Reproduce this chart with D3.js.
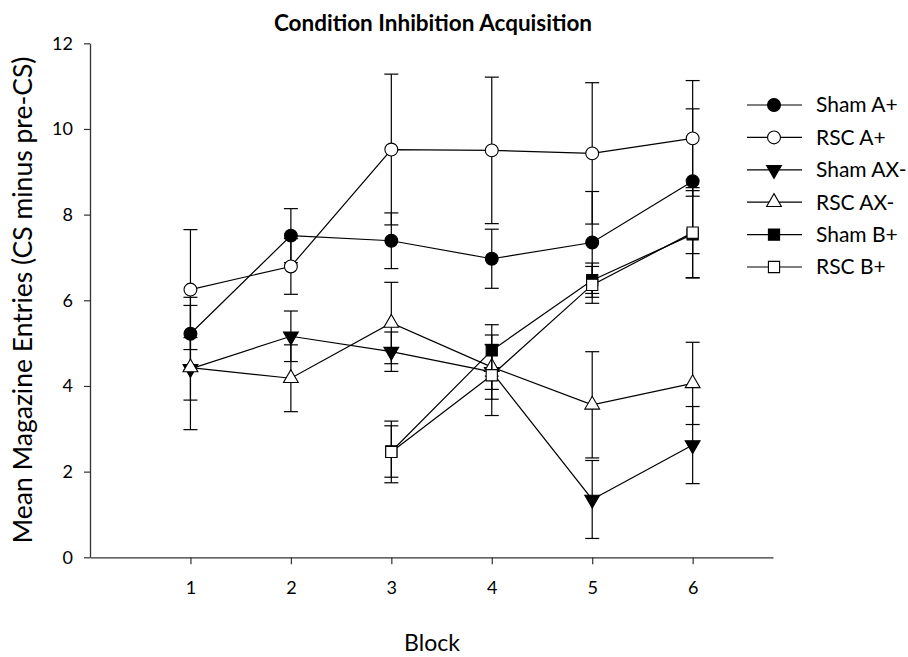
<!DOCTYPE html>
<html>
<head>
<meta charset="utf-8">
<script src="https://cdn.jsdelivr.net/npm/d3@7"></script>
<style>
	body { margin: 0; background: #fff; }
	text { font-family: Lato, "Open Sans", sans-serif; fill: #000; }
</style>
</head>
<body>
<div id="chart"></div>
<script>
// values (mean +/- SEM)
var blocks = [1, 2, 3, 4, 5, 6];
var seriesNames = ["Sham A+", "RSC A+", "Sham AX-", "RSC AX-", "Sham B+", "RSC B+"];

var shamA    = [5.22, 7.51, 7.39, 6.97, 7.35, 8.78];
var shamA_se = [0.85, 0.63, 0.65, 0.69, 1.19, 1.69];
var rscA     = [6.25, 6.79, 9.52, 9.50, 9.43, 9.78];
var rscA_se  = [1.40, 0.65, 1.76, 1.71, 1.65, 1.35];
var shamAX    = [4.40, 5.16, 4.80, 4.33, 1.35, 2.62];
var shamAX_se = [0.73, 0.59, 0.46, 0.64, 0.91, 0.90];
var rscAX     = [4.43, 4.18, 5.47, 4.44, 3.56, 4.06];
var rscAX_se  = [1.45, 0.78, 0.95, 0.52, 1.24, 0.96];
var shamB    = [null, null, 2.47, 4.83, 6.47, 7.54];
var shamB_se = [null, null, 0.60, 0.60, 0.40, 1.02];
var rscB     = [null, null, 2.46, 4.25, 6.36, 7.58];
var rscB_se  = [null, null, 0.72, 0.94, 0.43, 1.05];

var yTicks = [0, 2, 4, 6, 8, 10, 12];

var width = 908, height = 657;

var svg = d3.select("#chart")
			.append("svg")
			.attr("width", width)
			.attr("height", height);

var x = d3.scaleLinear().domain([0, 6.8]).range([90, 773]);
var y = d3.scaleLinear().domain([0, 12]).range([557.3, 43.3]);

// marker shape + fill per series
var markers = [
	{sym: d3.symbolCircle,   fill: "#000", rot: 0},
	{sym: d3.symbolCircle,   fill: "#fff", rot: 0},
	{sym: d3.symbolTriangle, fill: "#000", rot: 180},
	{sym: d3.symbolTriangle, fill: "#fff", rot: 0},
	{sym: d3.symbolSquare,   fill: "#000", rot: 0},
	{sym: d3.symbolSquare,   fill: "#fff", rot: 0}
];
var symSize = [130, 130, 95, 95, 125, 125];

var series = [
	[shamA, shamA_se], [rscA, rscA_se], [shamAX, shamAX_se],
	[rscAX, rscAX_se], [shamB, shamB_se], [rscB, rscB_se]
].map(function(s, k){
	var pts = [];
	blocks.forEach(function(b, i){
		if(s[0][i] != null) pts.push({b: b, v: s[0][i], se: s[1][i]});
	});
	return {name: seriesNames[k], pts: pts, m: markers[k], size: symSize[k]};
});

// axes
var yAxis = svg.append("g")
	.attr("transform", "translate(" + x(0) + ",0)")
	.call(d3.axisLeft(y).tickValues(yTicks).tickSize(6).tickSizeOuter(0).tickPadding(11));
var xAxis = svg.append("g")
	.attr("transform", "translate(0," + y(0) + ")")
	.call(d3.axisBottom(x).tickValues(blocks).tickFormat(d3.format("d"))
		.tickSize(7).tickSizeOuter(0).tickPadding(17));

[yAxis, xAxis].forEach(function(a){
	a.select(".domain").attr("stroke", "#333").attr("stroke-width", 1.3);
	a.selectAll(".tick line").attr("stroke", "#333").attr("stroke-width", 1.2);
	a.selectAll(".tick text").style("font-size", "18px").attr("fill", "#000");
});

var line = d3.line()
	.x(function(d){ return x(d.b); })
	.y(function(d){ return y(d.v); });

// each series: line, error bars, markers (later series on top)
series.forEach(function(s){
	var g = svg.append("g");

	g.append("path")
		.attr("d", line(s.pts))
		.attr("fill", "none")
		.attr("stroke", "#000")
		.attr("stroke-width", 1.2);

	var eb = g.selectAll(".eb").data(s.pts).enter().append("g");
	eb.append("line")
		.attr("x1", function(d){ return x(d.b); })
		.attr("x2", function(d){ return x(d.b); })
		.attr("y1", function(d){ return y(d.v - d.se); })
		.attr("y2", function(d){ return y(d.v + d.se); })
		.attr("stroke", "#000").attr("stroke-width", 1.2);
	[-1, 1].forEach(function(sign){
		eb.append("line")
			.attr("x1", function(d){ return x(d.b) - 7; })
			.attr("x2", function(d){ return x(d.b) + 7; })
			.attr("y1", function(d){ return y(d.v + sign * d.se); })
			.attr("y2", function(d){ return y(d.v + sign * d.se); })
			.attr("stroke", "#000").attr("stroke-width", 1.2);
	});

	g.selectAll(".mk").data(s.pts).enter().append("path")
		.attr("d", d3.symbol().type(s.m.sym).size(s.size))
		.attr("transform", function(d){
			return "translate(" + x(d.b) + "," + y(d.v) + ") rotate(" + s.m.rot + ")";
		})
		.attr("fill", s.m.fill)
		.attr("stroke", "#000")
		.attr("stroke-width", 1.1);
});

// legend
var leg = svg.append("g");
series.forEach(function(s, i){
	var ly = 105 + i * 32.4;
	leg.append("line")
		.attr("x1", 747).attr("x2", 802)
		.attr("y1", ly).attr("y2", ly)
		.attr("stroke", "#000").attr("stroke-width", 1.2);
	leg.append("path")
		.attr("d", d3.symbol().type(s.m.sym).size(s.size))
		.attr("transform", "translate(774," + ly + ") rotate(" + s.m.rot + ")")
		.attr("fill", s.m.fill)
		.attr("stroke", "#000")
		.attr("stroke-width", 1.1);
	leg.append("text")
		.attr("x", 816)
		.attr("y", ly)
		.attr("dy", "0.35em")
		.style("font-size", "21px")
		.text(s.name);
});

// titles
svg.append("text")
	.attr("text-anchor", "middle")
	.attr("x", 433)
	.attr("y", 31)
	.style("font-size", "22.5px")
	.style("font-weight", "bold")
	.text("Condition Inhibition Acquisition");

svg.append("text")
	.attr("text-anchor", "middle")
	.attr("x", 432)
	.attr("y", 651)
	.style("font-size", "23px")
	.text("Block");

svg.append("text")
	.attr("text-anchor", "middle")
	.attr("transform", "translate(32,300) rotate(-90)")
	.style("font-size", "26.5px")
	.text("Mean Magazine Entries (CS minus pre-CS)");
</script>
</body>
</html>
